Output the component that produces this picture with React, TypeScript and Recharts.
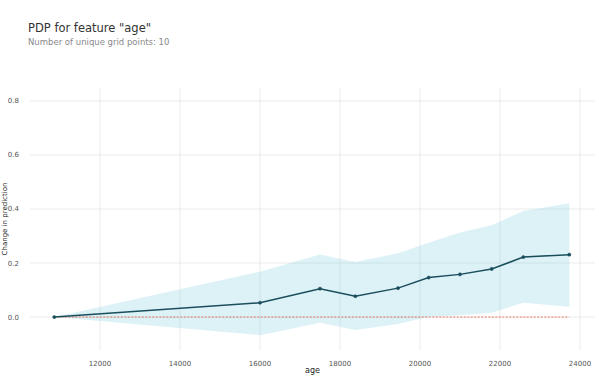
import {
  ComposedChart,
  Area,
  Line,
  XAxis,
  YAxis,
  CartesianGrid,
} from 'recharts';

// grid points of the feature and PDP values
const ages = [10857, 16000, 17500, 18383, 19450, 20217, 21000, 21792, 22583, 23733];
const pdp = [0, 0.053, 0.105, 0.077, 0.107, 0.146, 0.158, 0.178, 0.222, 0.231];
const upper = [0, 0.168, 0.232, 0.204, 0.236, 0.275, 0.313, 0.34, 0.393, 0.421];
const lower = [0, -0.067, -0.021, -0.048, -0.026, 0.001, 0.007, 0.016, 0.053, 0.038];

const xTicks = [12000, 14000, 16000, 18000, 20000, 22000, 24000];
const yTicks = [0, 0.2, 0.4, 0.6, 0.8];

const FONT = '"DejaVu Sans", Roboto, sans-serif';

export default function App() {
  const rows = ages.map((a, i) => ({
    age: a,
    pdp: pdp[i],
    band: [lower[i], upper[i]],
    zero: 0,
  }));

  return (
    <div style={{ position: 'absolute', left: 0, top: 0, width: 599, height: 376, background: '#fff', fontFamily: FONT }}>
      <div style={{ position: 'absolute', left: 28, top: 21, fontSize: 11.5, color: '#333' }}>
        PDP for feature "age"
      </div>
      <div style={{ position: 'absolute', left: 28, top: 37, fontSize: 8.5, color: '#8a8a8a' }}>
        Number of unique grid points: 10
      </div>
      <ComposedChart
        width={599}
        height={376}
        data={rows}
        margin={{ top: 88, right: 4, bottom: 0, left: 0 }}
      >
        {/* grid lines only at the given ticks */}
        <CartesianGrid stroke="#e6e6e6" strokeWidth={0.8} syncWithTicks />
        <XAxis
          dataKey="age"
          type="number"
          domain={[10250, 24375]}
          ticks={xTicks}
          height={26}
          axisLine={false}
          tickLine={false}
          tick={{ fontSize: 7, fill: '#555', fontFamily: FONT }}
          tickMargin={5}
          label={{ value: 'age', position: 'insideBottom', offset: 3, fontSize: 8, fill: '#222', fontFamily: FONT }}
        />
        <YAxis
          type="number"
          domain={[-0.122, 0.848]}
          ticks={yTicks}
          width={30}
          axisLine={false}
          tickLine={false}
          tickFormatter={(v: number) => v.toFixed(1)}
          tick={{ fontSize: 7, fill: '#555', fontFamily: FONT }}
          tickMargin={5}
          label={{
            value: 'Change in prediction',
            angle: -90,
            position: 'insideLeft',
            offset: 5,
            style: { textAnchor: 'middle', fontSize: 7, fill: '#222', fontFamily: FONT },
          }}
        />
        <Area
          dataKey="band"
          type="linear"
          stroke="none"
          fill="#66C2D7"
          fillOpacity={0.22}
          isAnimationActive={false}
        />
        <Line
          dataKey="zero"
          type="linear"
          stroke="#E75438"
          strokeWidth={0.8}
          strokeDasharray="2 1.5"
          dot={false}
          isAnimationActive={false}
        />
        <Line
          dataKey="pdp"
          type="linear"
          stroke="#1A4E5D"
          strokeWidth={1.5}
          dot={{ r: 1.6, fill: '#1A4E5D', stroke: '#1A4E5D', strokeWidth: 0.5 }}
          isAnimationActive={false}
        />
      </ComposedChart>
    </div>
  );
}
